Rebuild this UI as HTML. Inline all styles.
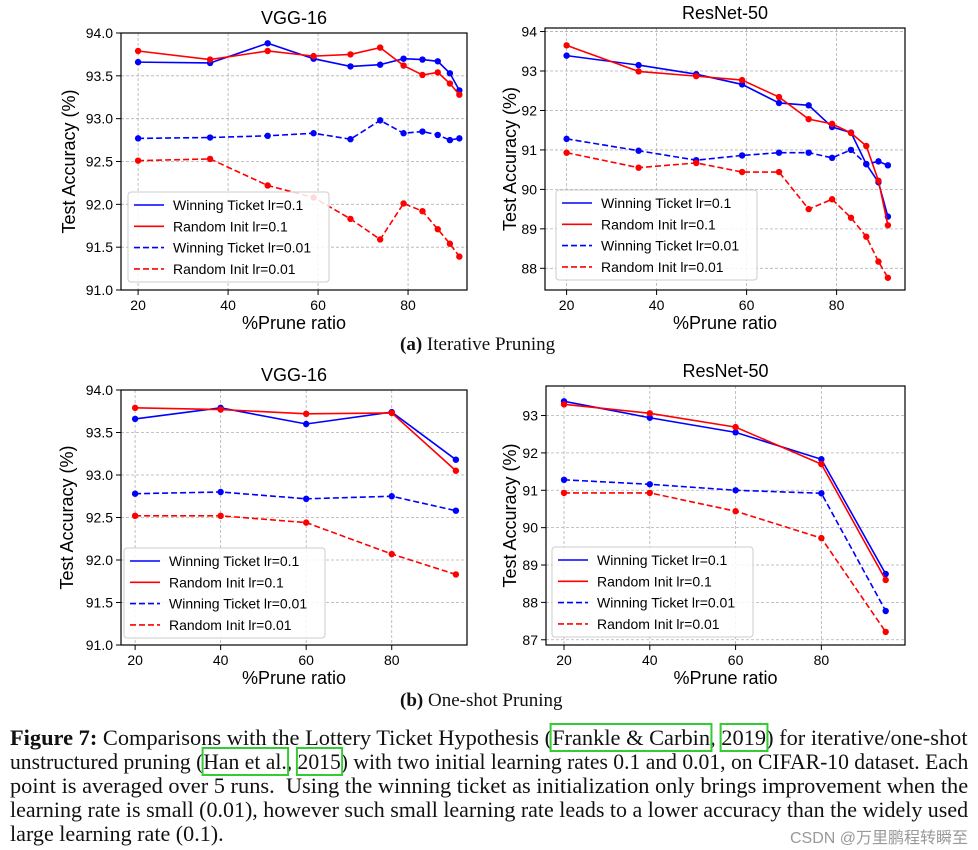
<!DOCTYPE html>
<html><head><meta charset="utf-8">
<style>
body{margin:0;background:#fff;width:978px;height:850px;overflow:hidden;position:relative;font-family:"Liberation Sans",sans-serif}
svg{position:absolute;left:0;top:0}
.cap{position:absolute;left:10px;font-family:"Liberation Serif",serif;font-size:22px;white-space:nowrap;transform-origin:0 0;color:#111;line-height:24px}
.sub{position:absolute;font-family:"Liberation Serif",serif;font-size:19px;color:#111}
.lnk{outline:2px solid #3c3;outline-offset:0}
.wm{position:absolute;right:10px;top:824px;font-family:"Liberation Sans","Noto Sans CJK SC",sans-serif;font-size:16px;color:#999}
</style></head>
<body>
<svg id="chart" width="978" height="700"></svg>
<div class="sub" style="left:400px;top:334px"><b>(a)</b> Iterative Pruning</div>
<div class="sub" style="left:400px;top:690px"><b>(b)</b> One-shot Pruning</div>
<div class="cap" style="top:726px"><b>Figure 7:</b> Comparisons with the Lottery Ticket Hypothesis (<span class="lnk">Frankle &amp; Carbin</span>, <span class="lnk">2019</span>) for iterative/one-shot</div>
<div class="cap" style="top:750px">unstructured pruning (<span class="lnk">Han et al.</span>, <span class="lnk">2015</span>) with two initial learning rates 0.1 and 0.01, on CIFAR-10 dataset. Each</div>
<div class="cap" style="top:774px">point is averaged over 5 runs.&nbsp; Using the winning ticket as initialization only brings improvement when the</div>
<div class="cap" style="top:798px">learning rate is small (0.01), however such small learning rate leads to a lower accuracy than the widely used</div>
<div class="cap nofit" style="top:822px">large learning rate (0.1).</div>
<div class="wm">CSDN @万里鹏程转瞬至</div>
<script>
// ---- data ----
const iterRatios = [20, 36, 48.8, 59, 67.2, 73.8, 79, 83.2, 86.6, 89.3, 91.4];
const oneshotRatios = [20, 40, 60, 80, 95];
const vggIterWin01 = [93.66,93.65,93.88,93.70,93.61,93.63,93.70,93.69,93.67,93.53,93.33];
const vggIterRand01 = [93.79,93.69,93.79,93.73,93.75,93.83,93.62,93.51,93.54,93.41,93.28];
const vggIterWin001 = [92.77,92.78,92.80,92.83,92.76,92.98,92.83,92.85,92.81,92.75,92.77];
const vggIterRand001 = [92.51,92.53,92.22,92.08,91.83,91.59,92.01,91.92,91.71,91.54,91.39];
const resIterWin01 = [93.39,93.15,92.92,92.66,92.19,92.13,91.58,91.44,90.64,90.18,89.31];
const resIterRand01 = [93.65,92.99,92.87,92.77,92.34,91.78,91.66,91.43,91.10,90.22,89.09];
const resIterWin001 = [91.28,90.98,90.74,90.86,90.93,90.93,90.80,91.00,90.64,90.71,90.61];
const resIterRand001 = [90.93,90.55,90.67,90.44,90.44,89.50,89.75,89.28,88.80,88.17,87.76];
const vggOneWin01 = [93.66,93.79,93.60,93.74,93.18];
const vggOneRand01 = [93.79,93.77,93.72,93.73,93.05];
const vggOneWin001 = [92.78,92.80,92.72,92.75,92.58];
const vggOneRand001 = [92.52,92.52,92.44,92.07,91.83];
const resOneWin01 = [93.38,92.94,92.55,91.83,88.76];
const resOneRand01 = [93.30,93.06,92.69,91.70,88.60];
const resOneWin001 = [91.28,91.16,91.00,90.92,87.77];
const resOneRand001 = [90.93,90.93,90.44,89.72,87.21];
const xTicks = [20,40,60,80];
const vggYTicks = ["91.0","91.5","92.0","92.5","93.0","93.5","94.0"];
const resIterYTicks = ["88","89","90","91","92","93","94"];
const resOneYTicks = ["87","88","89","90","91","92","93"];
const legendLabels = ["Winning Ticket lr=0.1","Random Init lr=0.1","Winning Ticket lr=0.01","Random Init lr=0.01"];

const NS="http://www.w3.org/2000/svg";
const svg=document.getElementById('chart');
function mk(tag,attrs,parent){const e=document.createElementNS(NS,tag);for(const k in attrs)e.setAttribute(k,attrs[k]);(parent||svg).appendChild(e);return e;}

function plot(p){
  const g=mk('g',{});
  
  
  const sx=v=>p.L+(v-p.x0)/(p.x1-p.x0)*(p.R-p.L);
  const sy=v=>p.B-(v-p.y0)/(p.y1-p.y0)*(p.B-p.T);
  xTicks.forEach(t=>{
    mk('line',{x1:sx(t),x2:sx(t),y1:p.T,y2:p.B,stroke:'#b0b0b0','stroke-width':0.8,'stroke-dasharray':'3,2'},g);
    mk('line',{x1:sx(t),x2:sx(t),y1:p.B,y2:p.B+5,stroke:'#000','stroke-width':1},g);
    const tx=mk('text',{x:sx(t),y:p.B+20,'text-anchor':'middle','font-size':14,fill:'#000'},g);
    tx.textContent=t;
    
    
  });
  p.yt.forEach(s=>{
    const v=parseFloat(s);
    mk('line',{x1:p.L,x2:p.R,y1:sy(v),y2:sy(v),stroke:'#b0b0b0','stroke-width':0.8,'stroke-dasharray':'3,2'},g);
    mk('line',{x1:p.L-5,x2:p.L,y1:sy(v),y2:sy(v),stroke:'#000','stroke-width':1},g);
    const tx=mk('text',{x:p.L-8,y:sy(v)+5,'text-anchor':'end','font-size':14,fill:'#000'},g);
    tx.textContent=s;
    
    
  });
  const colors=['#0000ff','#ff0000','#0000ff','#ff0000'];
  const dash=[null,null,'6,3','6,3'];
  p.series.forEach((ser,i)=>{
    const pts=ser.map((v,j)=>sx(p.xs[j])+','+sy(v)).join(' ');
    const a={points:pts,fill:'none',stroke:colors[i],'stroke-width':1.6};
    if(dash[i])a['stroke-dasharray']=dash[i];
    const pl=mk('polyline',a,g);
    
    
    ser.forEach((v,j)=>{
      const c=mk('circle',{cx:sx(p.xs[j]),cy:sy(v),r:3.2,fill:colors[i]},g);
      
      
    });
  });
  mk('rect',{x:p.L,y:p.T,width:p.R-p.L,height:p.B-p.T,fill:'none',stroke:'#000','stroke-width':1.2},g);
  const ti=mk('text',{x:(p.L+p.R)/2,y:p.T-9,'text-anchor':'middle','font-size':18,fill:'#000'},g);
  ti.textContent=p.title;
  
  
  const xl=mk('text',{x:(p.L+p.R)/2,y:p.B+39,'text-anchor':'middle','font-size':18,fill:'#000'},g);
  xl.textContent='%Prune ratio';
  
  
  const yl=mk('text',{x:0,y:0,'text-anchor':'middle','font-size':18,fill:'#000',transform:`translate(${p.yLabX},${(p.T+p.B)/2}) rotate(-90)`},g);
  yl.textContent='Test Accuracy (%)';
  
  
  const lg=mk('g',{},g);
  
  
  mk('rect',{x:p.lx,y:p.ly,width:201,height:90,rx:3,fill:'#fff','fill-opacity':0.85,stroke:'#ccc','stroke-width':1},lg);
  legendLabels.forEach((s,i)=>{
    const yy=p.ly+13+i*21.3;
    const a={x1:p.lx+6,x2:p.lx+36,y1:yy,y2:yy,stroke:colors[i],'stroke-width':1.6};
    if(dash[i])a['stroke-dasharray']='6,3';
    mk('line',a,lg);
    const t=mk('text',{x:p.lx+45,y:yy+5,'font-size':14,fill:'#000'},lg);
    t.textContent=s;
    
    
  });
}
plot({name:'vgg16-iterative',title:'VGG-16',L:121,R:467,T:33,B:290,x0:16.2,x1:93.1,y0:91,y1:94,yt:vggYTicks,xs:iterRatios,
  series:[vggIterWin01,vggIterRand01,vggIterWin001,vggIterRand001],yLabX:75,lx:128,ly:192});
plot({name:'resnet50-iterative',title:'ResNet-50',L:545,R:905,T:28,B:290,x0:15.2,x1:95.2,y0:87.45,y1:94.09,yt:resIterYTicks,xs:iterRatios,
  series:[resIterWin01,resIterRand01,resIterWin001,resIterRand001],yLabX:516,lx:556,ly:190});
plot({name:'vgg16-oneshot',title:'VGG-16',L:121,R:467,T:390,B:645,x0:16.7,x1:97.6,y0:91,y1:94,yt:vggYTicks,xs:oneshotRatios,
  series:[vggOneWin01,vggOneRand01,vggOneWin001,vggOneRand001],yLabX:73,lx:124,ly:548});
plot({name:'resnet50-oneshot',title:'ResNet-50',L:546,R:905,T:386,B:645,x0:15.8,x1:99.5,y0:86.86,y1:93.79,yt:resOneYTicks,xs:oneshotRatios,
  series:[resOneWin01,resOneRand01,resOneWin001,resOneRand001],yLabX:516,lx:552,ly:547});
let scales=[];
document.querySelectorAll('.cap').forEach(d=>{
  if(!d.classList.contains('nofit')){const s=958/d.scrollWidth;scales.push(s);d.style.transform=`scaleX(${s})`;}
});
const avg=scales.reduce((a,b)=>a+b,0)/scales.length;
document.querySelector('.nofit').style.transform=`scaleX(${avg})`;
</script>
</body></html>
